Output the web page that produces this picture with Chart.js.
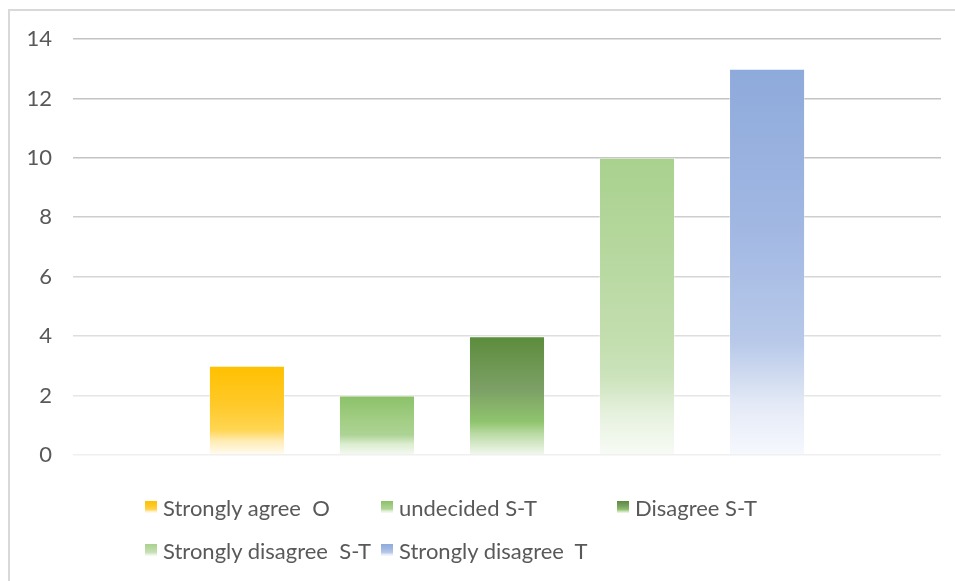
<!DOCTYPE html>
<html>
<head>
<meta charset="utf-8">
<script src="https://cdn.jsdelivr.net/npm/chart.js@4/dist/chart.umd.min.js"></script>
<style>
  html, body { margin: 0; padding: 0; background: #fff; }
  #wrap { position: relative; width: 955px; height: 581px; overflow: hidden; }
  #frame { position: absolute; left: 8px; top: 9px; right: -6px; bottom: -6px;
           border-top: 2px solid #d9d9d9; border-left: 2px solid #d9d9d9; }
  canvas { position: absolute; left: 0; top: 0; }
  #legend { position: absolute; left: 0; top: 0; width: 955px; height: 581px; pointer-events: none;
            font-family: Lato, "Open Sans", sans-serif; font-size: 22px; color: #595959; }
  .item { position: absolute; display: flex; align-items: center; white-space: pre; height: 26px; }
  .sw { width: 12px; height: 12px; margin-right: 6px; flex: none; }
</style>
</head>
<body>
<div id="wrap">
  <div id="frame"></div>
  <canvas id="c" width="955" height="581"></canvas>
  <div id="legend"></div>
</div>
<script>
// Survey responses, one bar per answer group
const categories = [''];
const seriesNames = ['Strongly agree  O', 'undecided S-T', 'Disagree S-T', 'Strongly disagree  S-T', 'Strongly disagree  T'];
const seriesValues = [3, 2, 4, 10, 13];
const yTicks = [0, 2, 4, 6, 8, 10, 12, 14];

// Vertical gradient stops for each bar (top -> bottom)
const fills = [
  [[0, '#FFC000'], [0.45, '#FFC92A'], [0.72, '#FFD552'], [0.84, '#FFEBB2'], [1, '#FFFCF5']],
  [[0, '#8BC168'], [0.45, '#A4CF87'], [0.66, '#ADD394'], [0.82, '#DCEDD0'], [1, '#F6FAF3']],
  [[0, '#5B8C3B'], [0.45, '#7DA066'], [0.72, '#8FC46D'], [0.82, '#B9DAA3'], [1, '#F3F8F0']],
  [[0, '#A9D18E'], [0.62, '#C3DEAF'], [0.74, '#CCE3BC'], [0.86, '#E6F1DE'], [1, '#F8FBF6']],
  [[0, '#8EAADB'], [0.42, '#A2B8E3'], [0.71, '#B8C9E9'], [0.87, '#E4EAF6'], [1, '#F6F8FD']]
];

function barFill(stops) {
  return (ctx) => {
    const chart = ctx.chart;
    const area = chart.chartArea;
    if (!area || ctx.raw === undefined) return stops[0][1];
    const y = chart.scales.y;
    const top = y.getPixelForValue(ctx.raw);
    const bottom = y.getPixelForValue(0);
    const g = chart.ctx.createLinearGradient(0, top, 0, bottom);
    stops.forEach(([o, c]) => g.addColorStop(o, c));
    return g;
  };
}

// gridlines fade towards the baseline
function gridShade(v) {
  const t = Math.min(1, (v / 14) * 1.4);
  const s = Math.round(239 - 43 * t);
  return `rgb(${s},${s},${s})`;
}

const datasets = seriesNames.map((name, i) => ({
  label: name,
  data: [seriesValues[i]],
  backgroundColor: barFill(fills[i]),
  borderColor: 'rgba(255,255,255,0.35)',
  borderWidth: 1,
  categoryPercentage: 0.749,
  barPercentage: 0.585
}));

new Chart(document.getElementById('c'), {
  type: 'bar',
  data: { labels: categories, datasets },
  options: {
    responsive: false,
    animation: false,
    layout: { padding: { left: 0, right: 14, top: 39, bottom: 126 } },
    plugins: { legend: { display: false }, tooltip: { enabled: false } },
    scales: {
      x: { display: false },
      y: {
        min: 0, max: 14,
        afterBuildTicks: (s) => { s.ticks = yTicks.map(v => ({ value: v })); },
        afterFit: (s) => { s.width = 73; },
        ticks: { padding: 21, color: '#595959', font: { family: 'Lato', size: 22 } },
        grid: { color: (c) => gridShade(c.tick ? c.tick.value : 0), lineWidth: 1.6, drawTicks: false },
        border: { display: false }
      }
    }
  }
});

// Legend laid out in fixed-width columns below the plot
const legend = document.getElementById('legend');
seriesNames.forEach((name, i) => {
  const col = i % 3, row = Math.floor(i / 3);
  const item = document.createElement('div');
  item.className = 'item';
  item.style.left = (145 + col * 236) + 'px';
  item.style.top = (507 + row * 43 - 13) + 'px';
  const sw = document.createElement('div');
  sw.className = 'sw';
  sw.style.background = 'linear-gradient(to bottom,' + fills[i].map(([o, c]) => c + ' ' + Math.round(o * 100) + '%').join(',') + ')';
  const tx = document.createElement('span');
  tx.textContent = name;
  item.appendChild(sw);
  item.appendChild(tx);
  legend.appendChild(item);
});
</script>
</body>
</html>
